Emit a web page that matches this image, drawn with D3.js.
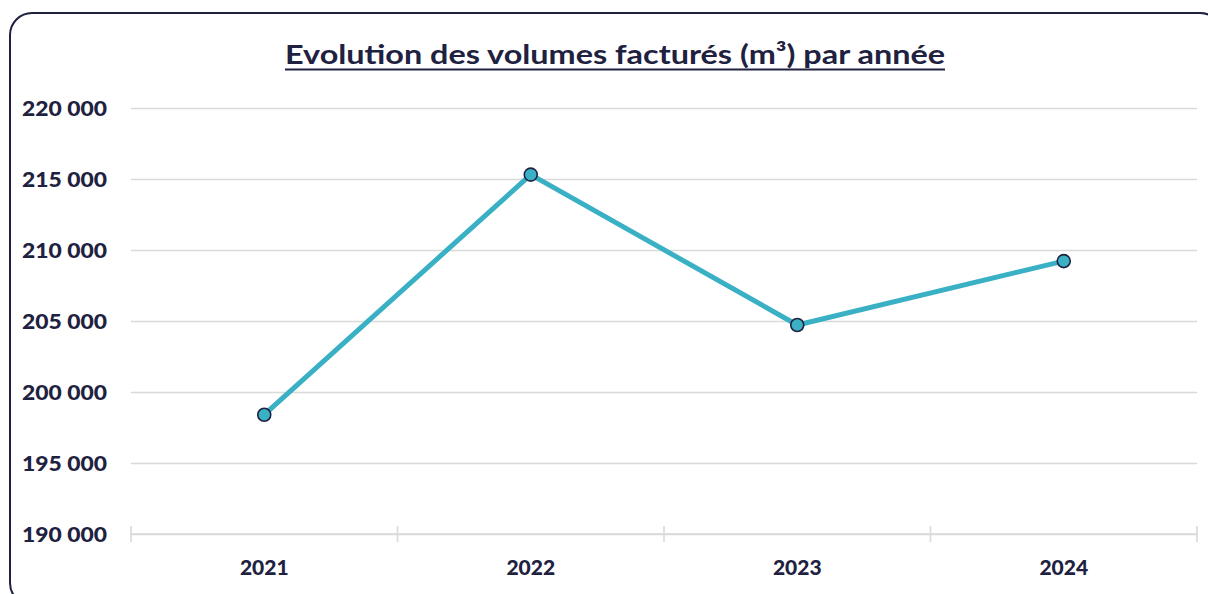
<!DOCTYPE html>
<html lang="fr">
<head>
<meta charset="UTF-8">
<title>Evolution des volumes facturés</title>
<script src="https://d3js.org/d3.v7.min.js"></script>
<style>
html,body{margin:0;padding:0;background:#fff}
svg{display:block}
.lbl{font-family:Lato,"Noto Sans",sans-serif;font-weight:900;fill:#1e2140}
</style>
</head>
<body>
<svg id="chart" width="1208" height="594"></svg>
<script>
// ── data ──
var years = ['2021', '2022', '2023', '2024'];
var volumes = [198400, 215310, 204720, 209220];
var yTicks = [190000, 195000, 200000, 205000, 210000, 215000, 220000];
var title = 'Evolution des volumes facturés (m³) par année';

var W = 1208, H = 594;
var M = { left: 131, right: 1197, top: 108, bottom: 534 };
var ink = '#1e2140', teal = '#3ab0c5', grid = '#d9d9d9';

var svg = d3.select('#chart');

// card border
svg.append('rect')
  .attr('x', 10).attr('y', 13).attr('width', 1212).attr('height', 592)
  .attr('rx', 22).attr('ry', 22)
  .attr('fill', '#fff').attr('stroke', ink).attr('stroke-width', 2);

// title
svg.append('text').attr('class', 'lbl')
  .attr('x', 615).attr('y', 64).attr('text-anchor', 'middle')
  .style('font-size', '27px').style('font-weight', 700)
  .attr('textLength', 660).attr('lengthAdjust', 'spacingAndGlyphs')
  .text(title);
svg.append('line')
  .attr('x1', 285).attr('x2', 945).attr('y1', 69.5).attr('y2', 69.5)
  .attr('stroke', ink).attr('stroke-width', 2);

var x = d3.scaleBand().domain(years).range([M.left, M.right]);
var y = d3.scaleLinear().domain([190000, 220000]).range([M.bottom, M.top]);

var fmt = function(v) { return d3.format(',')(v).replace(/,/g, ' '); };

// gridlines + y labels
var yAxis = svg.append('g').attr('transform', 'translate(' + M.left + ',0)')
  .call(d3.axisLeft(y).tickValues(yTicks).tickFormat(fmt)
    .tickSize(-(M.right - M.left)).tickPadding(24));
yAxis.select('.domain').remove();
yAxis.selectAll('.tick line').attr('stroke', grid).attr('stroke-width', 1.6);
yAxis.selectAll('.tick text').attr('class', 'lbl').style('font-size', '21px')
  .attr('dy', '0.35em').attr('textLength', 85).attr('lengthAdjust', 'spacingAndGlyphs');

// x axis line + ticks at band edges
var xAxis = svg.append('g').attr('transform', 'translate(0,' + M.bottom + ')');
xAxis.append('line').attr('x1', M.left).attr('x2', M.right)
  .attr('stroke', grid).attr('stroke-width', 1.6);
var edges = years.map(function(d) { return x(d); }).concat([M.right]);
xAxis.selectAll('.edge').data(edges).join('line').attr('class', 'edge')
  .attr('x1', function(d) { return d; }).attr('x2', function(d) { return d; })
  .attr('y1', -8).attr('y2', 8)
  .attr('stroke', grid).attr('stroke-width', 1.6);
xAxis.selectAll('.xl').data(years).join('text').attr('class', 'lbl xl')
  .attr('x', function(d) { return x(d) + x.bandwidth() / 2; })
  .attr('y', 41).attr('text-anchor', 'middle')
  .style('font-size', '21px').text(function(d) { return d; });

// line
var pts = years.map(function(d, i) { return { year: d, v: volumes[i] }; });
var line = d3.line()
  .x(function(d) { return x(d.year) + x.bandwidth() / 2; })
  .y(function(d) { return y(d.v); });
svg.append('path').datum(pts).attr('d', line)
  .attr('fill', 'none').attr('stroke', teal).attr('stroke-width', 5)
  .attr('stroke-linejoin', 'round');

svg.selectAll('.dot').data(pts).join('circle').attr('class', 'dot')
  .attr('cx', function(d) { return x(d.year) + x.bandwidth() / 2; })
  .attr('cy', function(d) { return y(d.v); })
  .attr('r', 6.5).attr('fill', teal).attr('stroke', ink).attr('stroke-width', 1.6);
</script>
</body>
</html>
